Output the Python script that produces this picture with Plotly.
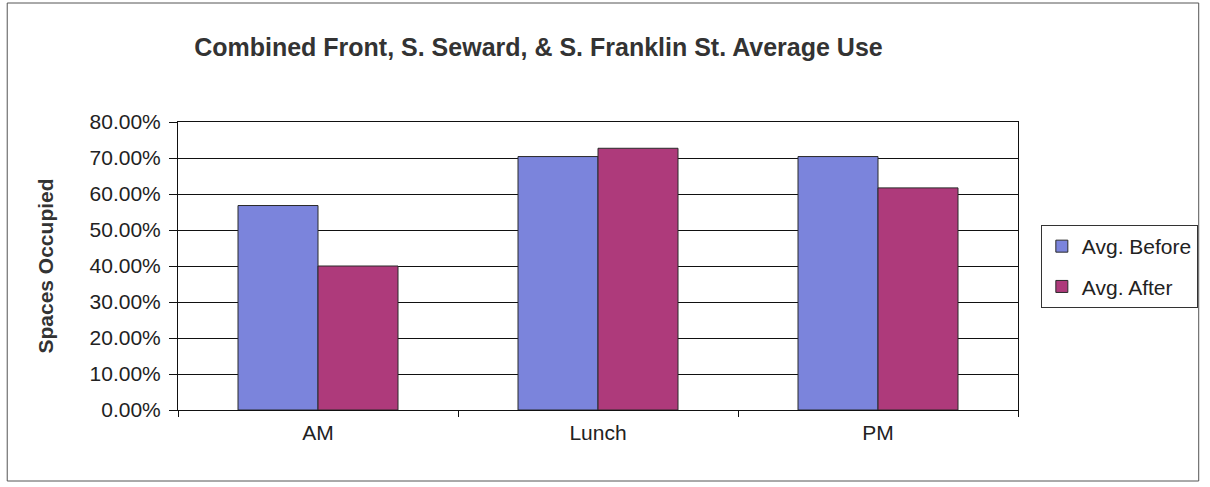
import plotly.graph_objects as go

categories = ["AM", "Lunch", "PM"]
avg_before = [0.568, 0.704, 0.704]
avg_after = [0.400, 0.727, 0.617]
series_names = ["Avg. Before", "Avg. After"]
title_text = "Combined Front, S. Seward, & S. Franklin St. Average Use"
y_title = "Spaces Occupied"

W, H = 1210, 487
ML, MR, MT, MB = 178, 186, 122, 77
PW, PH = W - ML - MR, H - MT - MB

def px_x(x):
    return (x - ML) / PW

def px_y(y):
    return (H - MB - y) / PH

FONT = "Liberation Sans, Arial, sans-serif"

fig = go.Figure()
fig.add_trace(go.Bar(x=categories, y=avg_before, name=series_names[0],
                     marker=dict(color="#7B84DC", line=dict(color="#2a2a2a", width=1)),
                     legendgroup="a"))
fig.add_trace(go.Bar(x=categories, y=avg_after, name=series_names[1],
                     marker=dict(color="#AE3A7B", line=dict(color="#2a2a2a", width=1)),
                     legendgroup="b"))

fig.update_layout(
    width=W, height=H,
    margin=dict(l=ML, r=MR, t=MT, b=MB),
    paper_bgcolor="white", plot_bgcolor="white",
    barmode="group", bargap=0.4286, bargroupgap=0,
    font=dict(family=FONT, color="#222222"),
    title=dict(text="<b>" + title_text + "</b>", x=px_x(541), xref="paper", xanchor="center",
               y=1 - 47 / H, yanchor="middle", font=dict(size=25, color="#333333")),
    legend=dict(x=px_x(1047), y=px_y(225), xanchor="left", yanchor="top",
                bordercolor="#333333", borderwidth=1, bgcolor="white",
                font=dict(size=21, color="#222222"), traceorder="grouped",
                tracegroupgap=10, itemwidth=30),
    showlegend=True,
)
fig.update_yaxes(range=[0, 0.8], dtick=0.1, tickformat=".2%",
                 showgrid=True, gridcolor="#111111", gridwidth=1,
                 showline=True, linecolor="#111111", linewidth=1, mirror=True,
                 ticks="outside", ticklen=8, tickcolor="#111111", ticklabelstandoff=4,
                 tickfont=dict(size=21, color="#222222"),
                 title=dict(text="<b>" + y_title + "</b>", font=dict(size=21, color="#333333"), standoff=30),
                 zeroline=False)
fig.update_xaxes(showline=True, linecolor="#111111", linewidth=1, mirror=True,
                 ticks="outside", tickson="boundaries", ticklen=6, tickcolor="#111111",
                 ticklabelstandoff=4,
                 tickfont=dict(size=21, color="#222222"), showgrid=False)

fig.add_shape(type="rect", xref="paper", yref="paper",
              x0=px_x(6), x1=px_x(1206), y0=px_y(481), y1=px_y(3),
              line=dict(color="#555555", width=1), fillcolor="rgba(0,0,0,0)", layer="below")

fig.write_html("out.html", config={"displayModeBar": False},
               post_script="document.body.style.margin='0';")
